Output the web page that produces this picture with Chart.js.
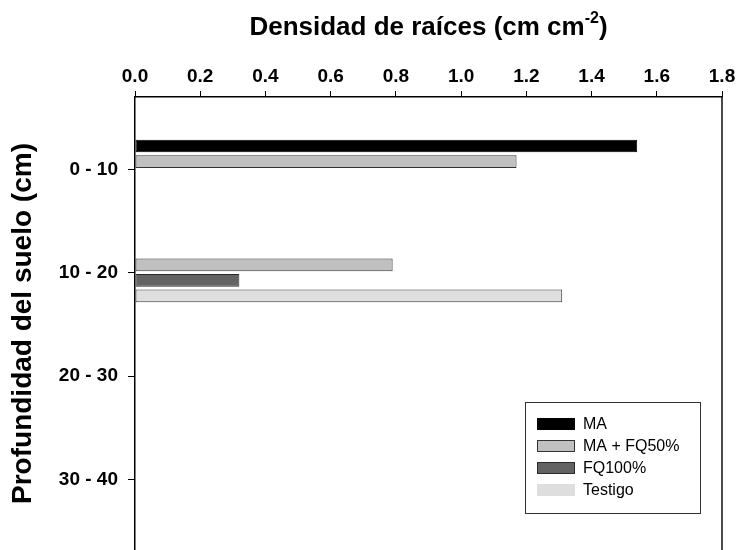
<!DOCTYPE html>
<html>
<head>
<meta charset="utf-8">
<script src="https://cdn.jsdelivr.net/npm/chart.js@4"></script>
<style>
  body { margin: 0; background: #fff; }
  #wrap { width: 738px; height: 550px; }
</style>
</head>
<body>
<div id="wrap"><canvas id="myChart"></canvas></div>
<script>
// depth classes and root density per treatment (cm cm-2)
const depths = ['0 - 10', '10 - 20', '20 - 30', '30 - 40'];
const seriesNames = ['MA', 'MA + FQ50%', 'FQ100%', 'Testigo'];
const ma = [1.54, null, null, null];
const maFq50 = [1.17, 0.79, null, null];
const fq100 = [null, 0.32, null, null];
const testigo = [null, 1.31, null, null];
const xTicks = [0, 0.2, 0.4, 0.6, 0.8, 1.0, 1.2, 1.4, 1.6, 1.8];

const fills = ['#000000', '#c0c0c0', '#636363', '#dedede'];
const borders = ['#000000', '#333333', '#2a2a2a', '#3a3a3a'];
const FONT = 'Liberation Sans, Arial, sans-serif';

const series = [ma, maFq50, fq100, testigo];
const datasets = series.map((vals, k) => ({
  label: seriesNames[k],
  data: depths.map((d, i) => ({ x: vals[i], y: i })),
  backgroundColor: fills[k],
  borderColor: borders[k],
  borderWidth: 1,
  borderSkipped: false,
  categoryPercentage: 0.6,
  barPercentage: 0.82
}));

// title on top with superscript
const topTitle = {
  id: 'topTitle',
  afterDraw(chart) {
    const ctx = chart.ctx;
    const a = chart.chartArea;
    const main = 'Densidad de raíces (cm cm';
    const sup = '-2';
    const end = ')';
    ctx.save();
    ctx.fillStyle = '#000';
    ctx.textBaseline = 'alphabetic';
    ctx.textAlign = 'left';
    ctx.font = 'bold 26px ' + FONT;
    const w1 = ctx.measureText(main).width;
    const w3 = ctx.measureText(end).width;
    ctx.font = 'bold 16px ' + FONT;
    const w2 = ctx.measureText(sup).width;
    let x = (a.left + a.right) / 2 - (w1 + w2 + w3) / 2;
    ctx.font = 'bold 26px ' + FONT;
    ctx.fillText(main, x, 35);
    x += w1;
    ctx.font = 'bold 16px ' + FONT;
    ctx.fillText(sup, x, 23);
    x += w2;
    ctx.font = 'bold 26px ' + FONT;
    ctx.fillText(end, x, 35);
    ctx.restore();
  }
};

// right frame line
const frame = {
  id: 'frame',
  afterDraw(chart) {
    const ctx = chart.ctx;
    const a = chart.chartArea;
    ctx.save();
    ctx.strokeStyle = '#111';
    ctx.lineWidth = 1.5;
    ctx.beginPath();
    ctx.moveTo(a.right, a.top);
    ctx.lineTo(a.right, a.bottom);
    ctx.stroke();
    ctx.restore();
  }
};

// boxed legend inside the plot
const boxLegend = {
  id: 'boxLegend',
  afterDraw(chart) {
    const ctx = chart.ctx;
    const bx = 525, by = 402, bw = 175, bh = 111;
    ctx.save();
    ctx.fillStyle = '#fff';
    ctx.fillRect(bx, by, bw, bh);
    ctx.strokeStyle = '#333';
    ctx.lineWidth = 1;
    ctx.strokeRect(bx + 0.5, by + 0.5, bw, bh);
    ctx.font = '16px ' + FONT;
    ctx.textBaseline = 'middle';
    chart.data.datasets.forEach((ds, k) => {
      const cy = 424 + k * 22;
      ctx.fillStyle = ds.backgroundColor;
      ctx.fillRect(537, cy - 6, 38, 12);
      if (k < 3) {
        ctx.strokeStyle = ds.borderColor;
        ctx.strokeRect(537.5, cy - 5.5, 37, 11);
      }
      ctx.fillStyle = '#000';
      ctx.fillText(ds.label, 583, cy + 1);
    });
    ctx.restore();
  }
};

const config = {
  type: 'bar',
  data: { datasets: datasets },
  options: {
    indexAxis: 'y',
    responsive: true,
    maintainAspectRatio: false,
    animation: false,
    layout: { padding: { top: 0, left: 0, right: 16, bottom: 0 } },
    plugins: {
      legend: { display: false },
      tooltip: { enabled: false }
    },
    scales: {
      x: {
        type: 'linear',
        position: 'top',
        min: 0,
        max: 1.8,
        afterBuildTicks: (scale) => { scale.ticks = xTicks.map(v => ({ value: v })); },
        afterFit: (scale) => { scale.height = 97; scale.paddingLeft = 0; scale.paddingRight = 0; },
        ticks: {
          callback: (v) => Number(v).toFixed(1),
          color: '#000',
          font: { family: FONT, size: 19, weight: 'bold' },
          padding: 3,
          maxRotation: 0
        },
        grid: { drawOnChartArea: false, tickLength: 6, color: '#000', lineWidth: 1 },
        border: { color: '#000', width: 1.5 }
      },
      y: {
        type: 'linear',
        reverse: true,
        offset: false,
        min: -0.699,
        max: 3.682,
        afterBuildTicks: (scale) => { scale.ticks = depths.map((d, i) => ({ value: i })); },
        afterFit: (scale) => { scale.width = 135; scale.paddingTop = 0; scale.paddingBottom = 0; },
        ticks: {
          callback: (v) => depths[v],
          color: '#000',
          font: { family: FONT, size: 19, weight: 'bold' },
          padding: 10
        },
        grid: { drawOnChartArea: false, offset: false, tickLength: 7, color: '#000', lineWidth: 1 },
        border: { color: '#000', width: 1.5 },
        title: {
          display: true,
          text: 'Profundidad del suelo (cm)',
          color: '#000',
          font: { family: FONT, size: 28, weight: 'bold' },
          padding: { top: 6, bottom: 0 }
        }
      }
    }
  },
  plugins: [topTitle, frame, boxLegend]
};

const myChart = new Chart(document.getElementById('myChart'), config);
</script>
</body>
</html>
